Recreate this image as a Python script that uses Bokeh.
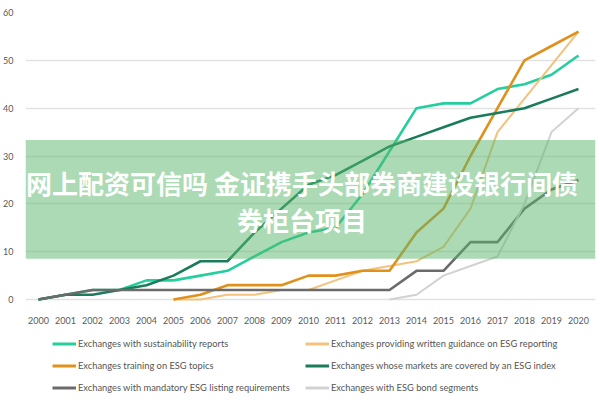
from bokeh.plotting import figure
from bokeh.layouts import column
from bokeh.models import Range1d, BoxAnnotation, Label, Legend, LegendItem, FixedTicker
from bokeh.embed import file_html
from bokeh.resources import INLINE

nan = float("nan")
years = list(range(2000, 2021))
y_ticks = [0, 10, 20, 30, 40, 50, 60]

sustainability = [0, 1, 2, 2, 4, 4, 5, 6, 9, 12, 14, 15, 22, 31, 40, 41, 41, 44, 45, 47, 51]
written_guidance = [nan, nan, nan, nan, nan, 0, 0, 1, 1, 2, 2, 4, 6, 7, 8, 11, 19, 35, 42, 49, 56]
training = [nan, nan, nan, nan, nan, 0, 1, 3, 3, 3, 5, 5, 6, 6, 14, 19, 30, 40, 50, 53, 56]
esg_index = [0, 1, 1, 2, 3, 5, 8, 8, 14, 19, 24, 26, 29, 32, 34, 36, 38, 39, 40, 42, 44]
mandatory = [0, 1, 2, 2, 2, 2, 2, 2, 2, 2, 2, 2, 2, 2, 6, 6, 12, 12, 19, 23, 25]
bond = [nan, nan, nan, nan, nan, nan, nan, nan, nan, nan, nan, nan, nan, 0, 1, 5, 7, 9, 20, 35, 40]

series = [
    ("Exchanges with sustainability reports", sustainability, "#24cf9d", 2.6),
    ("Exchanges providing written guidance on ESG reporting", written_guidance, "#f3c27c", 2.0),
    ("Exchanges training on ESG topics", training, "#e0911c", 2.6),
    ("Exchanges whose markets are covered by an ESG index", esg_index, "#1b7c5b", 2.6),
    ("Exchanges with mandatory ESG listing requirements", mandatory, "#6b6b6b", 2.6),
    ("Exchanges with ESG bond segments", bond, "#d2d2d2", 2.0),
]

banner_line1 = "网上配资可信吗 金证携手头部券商建设银行间债"
banner_line2 = "券柜台项目"

FONT = "Lato"

p = figure(width=600, height=326, output_backend="svg", toolbar_location=None,
           x_range=Range1d(1999.52, 2020.63), y_range=Range1d(-1.04, 60.0),
           min_border_left=16, min_border_right=5, min_border_top=12, min_border_bottom=0)
p.outline_line_color = None
p.xgrid.visible = False
p.ygrid.grid_line_color = "#e2e2e2"
p.ygrid.grid_line_width = 1.5

p.yaxis.ticker = FixedTicker(ticks=y_ticks)
p.xaxis.ticker = FixedTicker(ticks=years)
for ax in (p.xaxis, p.yaxis):
    ax.axis_line_color = None
    ax.major_tick_line_color = None
    ax.minor_tick_line_color = None
    ax.major_label_text_font = FONT
    ax.major_label_text_font_size = "9px"
    ax.major_label_text_color = "#5a5a5a"
p.yaxis.major_label_standoff = 6
p.xaxis.major_label_standoff = 6

for name, vals, color, w in series:
    p.line(years, vals, line_color=color, line_width=w, line_join="round")

band = BoxAnnotation(top=33.33, bottom=8.54, fill_color="#57b56b", fill_alpha=0.5,
                     line_color=None)
p.add_layout(band)

for txt, yv in ((banner_line1, 24.4), (banner_line2, 16.7)):
    p.add_layout(Label(x=2009.76, y=yv, text=txt, text_align="center",
                       text_baseline="middle", text_color="white",
                       text_font="Noto Sans CJK SC", text_font_size="26px",
                       text_font_style="bold"))

# legend panel (its own small figure, the lines fall outside its ranges)
lg = figure(width=600, height=74, output_backend="svg", toolbar_location=None,
            x_range=Range1d(0, 1), y_range=Range1d(0, 1),
            min_border_left=0, min_border_right=0, min_border_top=0, min_border_bottom=0)
lg.outline_line_color = None
lg.axis.visible = False
lg.grid.visible = False
items = []
for name, vals, color, w in series:
    r = lg.line(years, vals, line_color=color, line_width=3)
    items.append(LegendItem(label=name, renderers=[r]))

legend = Legend(items=items, orientation="horizontal", ncols=2, location=(27, 5),
                glyph_width=24, glyph_height=15, label_height=15, label_standoff=2,
                label_width=220, spacing=7, padding=0, margin=0,
                border_line_color=None, background_fill_alpha=0,
                label_text_font=FONT, label_text_font_size="9.3px",
                label_text_color="#555555")
lg.add_layout(legend)

layout = column(p, lg, spacing=0)
open("out.html", "w").write(file_html(layout, INLINE))
